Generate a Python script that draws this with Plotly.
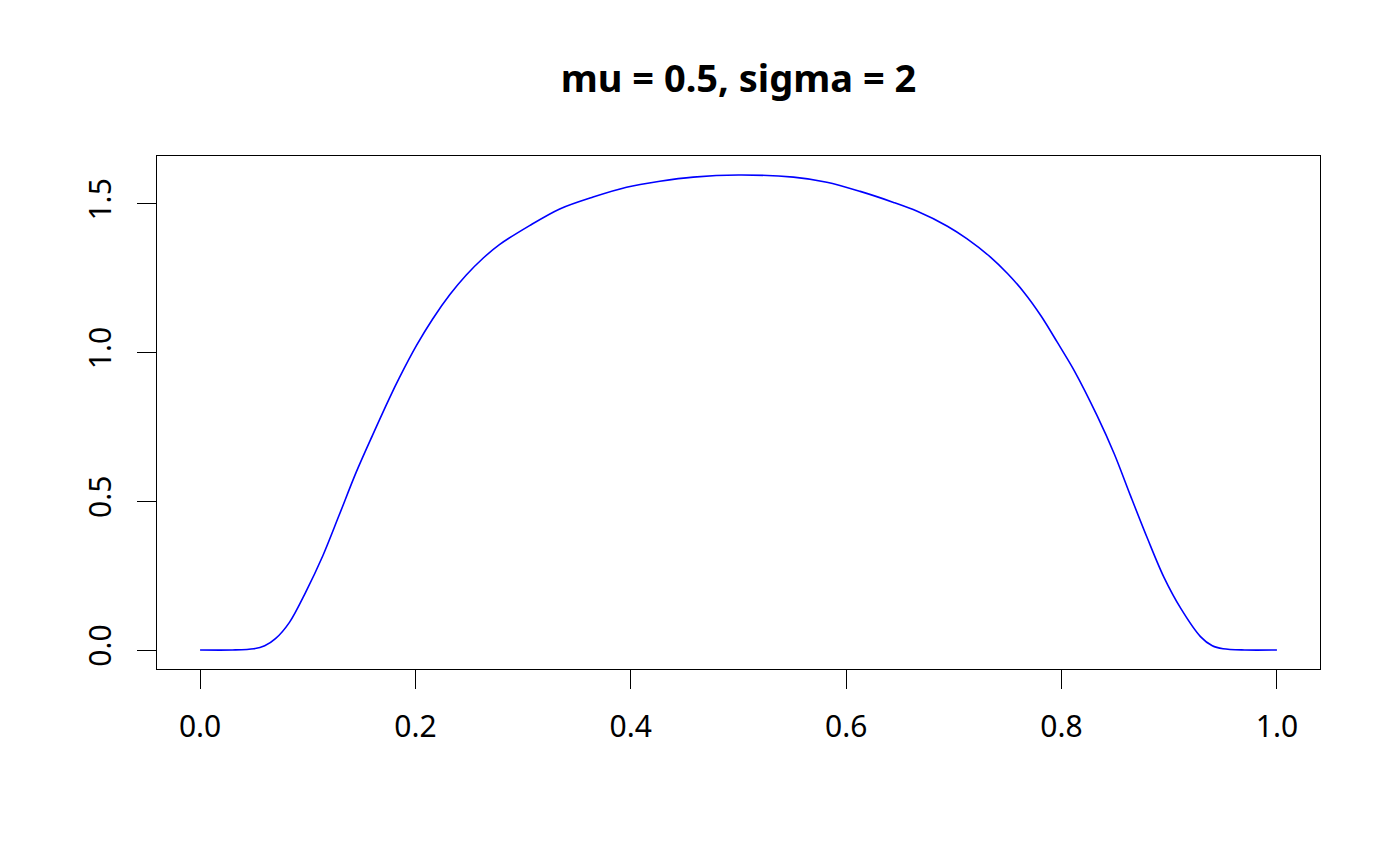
import plotly.graph_objects as go

# density curve (mu = 0.5, sigma = 2)
x_vals = [0.000, 0.030, 0.050, 0.060, 0.070, 0.083, 0.098, 0.114, 0.129, 0.145,
          0.160, 0.176, 0.185, 0.201, 0.216, 0.232, 0.247, 0.263, 0.278, 0.306,
          0.334, 0.365, 0.396, 0.427, 0.458, 0.500,
          0.551, 0.582, 0.613, 0.644, 0.666, 0.694, 0.712, 0.734, 0.750, 0.765,
          0.781, 0.796, 0.812, 0.833, 0.849, 0.864, 0.880, 0.895, 0.911, 0.929,
          0.940, 0.950, 0.970, 1.000]
y_vals = [0.000, 0.000, 0.004, 0.014, 0.038, 0.093, 0.194, 0.317, 0.452, 0.598,
          0.721, 0.848, 0.915, 1.024, 1.113, 1.195, 1.260, 1.318, 1.363, 1.427,
          1.483, 1.523, 1.556, 1.576, 1.590, 1.597,
          1.590, 1.573, 1.542, 1.505, 1.475, 1.425, 1.383, 1.321, 1.265, 1.203,
          1.123, 1.035, 0.938, 0.788, 0.659, 0.519, 0.373, 0.245, 0.138, 0.045,
          0.014, 0.004, 0.000, 0.000]
x_ticks = [0.0, 0.2, 0.4, 0.6, 0.8, 1.0]
y_ticks = [0.0, 0.5, 1.0, 1.5]

fig = go.Figure()
fig.add_trace(go.Scatter(x=x_vals, y=y_vals, mode="lines",
                         line=dict(color="#0000ff", width=1.6, shape="spline", smoothing=0.9),
                         showlegend=False))

axis_style = dict(showgrid=False, zeroline=False, showline=True, mirror=True,
                  linecolor="black", linewidth=1.3, ticks="outside", ticklen=19,
                  tickwidth=1.3, tickcolor="black",
                  tickfont=dict(family="Noto Sans", size=30, color="black"))

# page body has an 8px margin, so the figure is a little smaller than the window
fig.update_layout(
    width=1392, height=858,
    paper_bgcolor="white", plot_bgcolor="white",
    margin=dict(l=149, r=80, t=148, b=197),
    title=dict(text="<b>mu = 0.5, sigma = 2</b>", x=0.5, xref="paper",
               y=1 - 71 / 858, yanchor="middle",
               font=dict(family="Noto Sans", size=38, color="black")),
    xaxis=dict(range=[-0.04, 1.04], tickvals=x_ticks,
               ticktext=[f"{v:.1f}" for v in x_ticks], ticklabelstandoff=12, **axis_style),
    yaxis=dict(range=[-0.0639, 1.661], tickvals=y_ticks,
               ticktext=[f"{v:.1f}" for v in y_ticks], tickangle=-90,
               ticklabelstandoff=14, **axis_style),
)

fig.write_html("out.html")
